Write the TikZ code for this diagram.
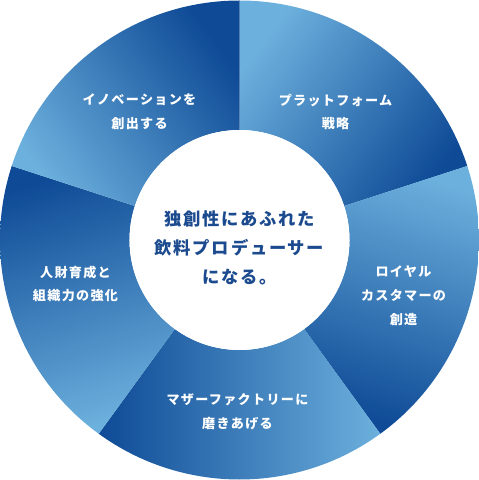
\documentclass[tikz,border=0pt]{standalone}
\usepackage{fontspec}
\usepackage{xcolor}
\newfontfamily\jpfont[LetterSpace=10,BoldFont={Noto Sans CJK JP Black}]{Noto Sans CJK JP}
\definecolor{seg_light}{HTML}{6CB0DD}
\definecolor{seg_dark}{HTML}{0E4A96}
\definecolor{core_blue}{HTML}{1B4A8E}

\begin{document}
\begin{tikzpicture}[x=0.025cm,y=0.025cm,
    seglabel/.style={text=white,align=center,font=\jpfont\bfseries\fontsize{9.3pt}{17pt}\selectfont},
    coretext/.style={text=core_blue,align=center,font=\jpfont\bfseries\fontsize{12.3pt}{20.6pt}\selectfont}]
    \useasboundingbox (-239.5,-240) rectangle (239.5,240);
    % segments, light to dark clockwise
    \shade[top color=seg_dark,bottom color=seg_light,shading angle=-126] (90:239.5) arc[start angle=90,end angle=18,radius=239.5] -- (18:110) arc[start angle=18,end angle=90,radius=110] -- cycle;
    \shade[top color=seg_dark,bottom color=seg_light,shading angle=-198] (18:239.5) arc[start angle=18,end angle=-54,radius=239.5] -- (-54:110) arc[start angle=-54,end angle=18,radius=110] -- cycle;
    \shade[top color=seg_dark,bottom color=seg_light,shading angle=-270] (-54:239.5) arc[start angle=-54,end angle=-126,radius=239.5] -- (-126:110) arc[start angle=-126,end angle=-54,radius=110] -- cycle;
    \shade[top color=seg_dark,bottom color=seg_light,shading angle=18] (234:239.5) arc[start angle=234,end angle=162,radius=239.5] -- (162:110) arc[start angle=162,end angle=234,radius=110] -- cycle;
    \shade[top color=seg_dark,bottom color=seg_light,shading angle=-54] (162:239.5) arc[start angle=162,end angle=90,radius=239.5] -- (90:110) arc[start angle=90,end angle=162,radius=110] -- cycle;
    \fill[white] (0,0) circle[radius=110];
    % labels
    \node[coretext] (core) at (0,-8) {独創性にあふれた\\飲料プロデューサー\\になる。};
    \node[seglabel] (innov) at (-100,128) {イノベーションを\\創出する};
    \node[seglabel] (platform) at (96,128) {プラットフォーム\\戦略};
    \node[seglabel] (loyal) at (164,-56) {ロイヤル\\カスタマーの\\創造};
    \node[seglabel] (talent) at (-164,-44) {人財育成と\\組織力の強化};
    \node[seglabel] (mother) at (-2,-172) {マザーファクトリーに\\磨きあげる};
\end{tikzpicture}
\end{document}
